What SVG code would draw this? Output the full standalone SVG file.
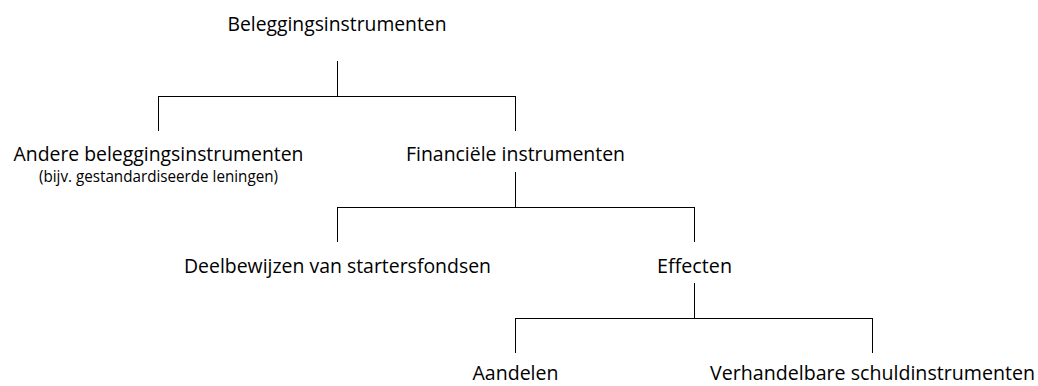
<svg xmlns="http://www.w3.org/2000/svg" width="1038" height="386" viewBox="0 0 1038 386">
<style>
text{font-family:"Open Sans","Liberation Sans",sans-serif;fill:#000;text-anchor:middle}
.m{font-size:19.6px}
.s{font-size:15.5px}
.c line{stroke:#000;stroke-width:1}
</style>
<rect width="1038" height="386" fill="#fff"/>
<g id="connectors" class="c">
<line x1="337.5" y1="61" x2="337.5" y2="96.5"/>
<line x1="158" y1="96.5" x2="516" y2="96.5"/>
<line x1="158.5" y1="96" x2="158.5" y2="131"/>
<line x1="515.5" y1="96" x2="515.5" y2="131"/>
<line x1="515.5" y1="172" x2="515.5" y2="207.5"/>
<line x1="337" y1="207.5" x2="695" y2="207.5"/>
<line x1="337.5" y1="207" x2="337.5" y2="242"/>
<line x1="694.5" y1="207" x2="694.5" y2="242"/>
<line x1="694.5" y1="283" x2="694.5" y2="318.5"/>
<line x1="515" y1="318.5" x2="873" y2="318.5"/>
<line x1="515.5" y1="318" x2="515.5" y2="353"/>
<line x1="872.5" y1="318" x2="872.5" y2="353"/>
</g>
<g id="n-beleggingsinstrumenten"><text class="m" x="337" y="31" textLength="219" lengthAdjust="spacingAndGlyphs">Beleggingsinstrumenten</text></g>
<g id="n-andere">
<text class="m" x="158.5" y="161" textLength="290" lengthAdjust="spacingAndGlyphs">Andere beleggingsinstrumenten</text>
<text class="s" x="158.5" y="182" textLength="239" lengthAdjust="spacingAndGlyphs">(bijv. gestandardiseerde leningen)</text>
</g>
<g id="n-financiele"><text class="m" x="515.5" y="161" textLength="219" lengthAdjust="spacingAndGlyphs">Financiële instrumenten</text></g>
<g id="n-deelbewijzen"><text class="m" x="337.5" y="272.5" textLength="307" lengthAdjust="spacingAndGlyphs">Deelbewijzen van startersfondsen</text></g>
<g id="n-effecten"><text class="m" x="694.5" y="272.5" textLength="75" lengthAdjust="spacingAndGlyphs">Effecten</text></g>
<g id="n-aandelen"><text class="m" x="515.5" y="380" textLength="86" lengthAdjust="spacingAndGlyphs">Aandelen</text></g>
<g id="n-verhandelbare"><text class="m" x="872.5" y="380" textLength="325" lengthAdjust="spacingAndGlyphs">Verhandelbare schuldinstrumenten</text></g>
</svg>
